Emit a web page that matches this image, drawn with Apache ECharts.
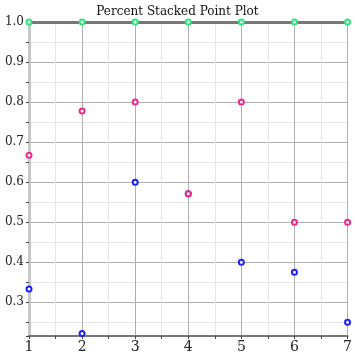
<!DOCTYPE html>
<html><head><meta charset="utf-8">
<script src="https://cdn.jsdelivr.net/npm/echarts@6/dist/echarts.min.js"></script>
<style>html,body{margin:0;padding:0;background:#fff}#c{width:355px;height:355px}</style>
</head><body><div id="c"></div>
<script>
const xValues = [1, 2, 3, 4, 5, 6, 7];
const seriesA = [0.333, 0.222, 0.6, 0.571, 0.4, 0.375, 0.25];
const seriesB = [0.667, 0.778, 0.8, 0.571, 0.8, 0.5, 0.5];
const seriesC = [1, 1, 1, 1, 1, 1, 1];
const yMin = 0.2157, yMax = 1.0;
const titleText = 'Percent Stacked Point Plot';
const colors = ['#1f1fff', '#f0288c', '#2ee67e'];
const font = 'DejaVu Serif';

const pair = arr => xValues.map((x, i) => [x, arr[i]]);
const chart = echarts.init(document.getElementById('c'));
const mk = (data, color, z) => ({
  type: 'scatter', data: pair(data), symbol: 'emptyCircle', symbolSize: 5,
  itemStyle: { color: color, borderWidth: 1.2, opacity: 1 },
  z: z, clip: false, animation: false
});
chart.setOption({
  animation: false,
  title: { text: titleText, left: 'center', top: 1,
    textStyle: { fontFamily: font, fontSize: 12, fontWeight: 'normal', color: '#111' } },
  grid: { left: 29, right: 1, top: 22, bottom: 19 },
  xAxis: [{
    type: 'value', min: 1, max: 7, interval: 1,
    axisLine: { onZero: false, lineStyle: { color: '#777', width: 2 } },
    axisTick: { show: true, length: 3, lineStyle: { color: '#444' } },
    minorTick: { show: true, splitNumber: 2, length: 3, lineStyle: { color: '#444' } },
    axisLabel: { fontFamily: font, fontSize: 14, color: '#222', margin: 4, showMaxLabel: true },
    splitLine: { show: true, lineStyle: { color: '#b0b0b0', width: 1 } },
    minorSplitLine: { show: true, lineStyle: { color: '#e6e6e6', width: 1 } }
  }, {
    type: 'value', position: 'top', min: 1, max: 7,
    axisLine: { show: true, onZero: false, lineStyle: { color: '#777', width: 3 } },
    axisTick: { show: false }, axisLabel: { show: false }, splitLine: { show: false }
  }],
  yAxis: {
    type: 'value', min: yMin, max: yMax, splitNumber: 8,
    axisLine: { show: true, onZero: false, lineStyle: { color: '#c8c8c8', width: 3 } },
    axisTick: { show: true, length: 3, lineStyle: { color: '#444' } },
    minorTick: { show: true, splitNumber: 2, length: 3, lineStyle: { color: '#444' } },
    axisLabel: { fontFamily: font, fontSize: 12, color: '#222', margin: 5, showMinLabel: false,
      formatter: v => v.toFixed(1) },
    splitLine: { show: true, lineStyle: { color: '#b0b0b0', width: 1 } },
    minorSplitLine: { show: true, lineStyle: { color: '#e6e6e6', width: 1 } }
  },
  series: [mk(seriesA, colors[0], 3), mk(seriesB, colors[1], 4), mk(seriesC, colors[2], 5)]
});
</script></body></html>
